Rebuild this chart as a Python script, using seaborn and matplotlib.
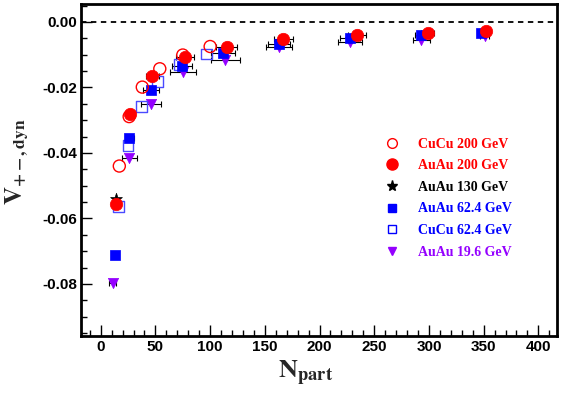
import matplotlib
matplotlib.use("Agg")
import matplotlib.pyplot as plt
from matplotlib.ticker import MultipleLocator, FormatStrFormatter
from matplotlib.lines import Line2D
import seaborn as sns

sns.set_theme(style="white")
plt.rcParams['font.family'] = ['Liberation Sans', 'DejaVu Sans']
plt.rcParams['mathtext.fontset'] = 'stix'

# CuCu 200 GeV (open red circles)
npart_cucu200 = [17, 26, 38, 54, 75, 100]
v_cucu200 = [-0.0440, -0.0289, -0.0199, -0.0143, -0.0101, -0.0075]

# AuAu 200 GeV (filled red circles)
npart_auau200 = [14, 27, 47, 77, 115, 167, 234, 299, 352]
v_auau200 = [-0.0557, -0.0282, -0.0165, -0.0108, -0.0075, -0.0053, -0.0040, -0.0033, -0.0027]
xerr_auau200 = [2, 4, 6, 8, 10, 9, 8, 6, 3]

# AuAu 130 GeV (black star)
npart_auau130 = [14]
v_auau130 = [-0.0540]

# AuAu 62.4 GeV (filled blue squares)
npart_auau62 = [13, 26, 46, 74, 112, 163, 228, 293, 348]
v_auau62 = [-0.0711, -0.0355, -0.0208, -0.0136, -0.0094, -0.0067, -0.0050, -0.0040, -0.0033]
xerr_auau62 = [2, 4, 7, 9, 11, 10, 9, 6, 3]

# CuCu 62.4 GeV (open blue squares)
npart_cucu62 = [16, 25, 37, 52, 72, 97]
v_cucu62 = [-0.0564, -0.0378, -0.0259, -0.0182, -0.0131, -0.0098]

# AuAu 19.6 GeV (purple triangles)
npart_auau19 = [11, 26, 46, 75, 114, 163, 228, 293, 351]
v_auau19 = [-0.0796, -0.0414, -0.0251, -0.0152, -0.0116, -0.0077, -0.0060, -0.0055, -0.0043]
xerr_auau19 = [3, 7, 9, 12, 13, 12, 11, 8, 4]

legend_labels = ['CuCu 200 GeV', 'AuAu 200 GeV', 'AuAu 130 GeV',
                 'AuAu 62.4 GeV', 'CuCu 62.4 GeV', 'AuAu 19.6 GeV']

red = '#ff0000'
blue = '#0000ff'
lblue = '#4a4aff'
purple = '#9400ff'

fig = plt.figure(figsize=(5.65, 3.93), dpi=100)
ax = fig.add_axes([0.1434, 0.145, 0.8424, 0.845])

# horizontal error bars
for xs, ys, xe in [(npart_auau19, v_auau19, xerr_auau19),
                   (npart_auau62, v_auau62, xerr_auau62),
                   (npart_auau200, v_auau200, xerr_auau200)]:
    ax.errorbar(xs, ys, xerr=xe, fmt='none', ecolor='black',
                elinewidth=0.8, capsize=2, capthick=0.8, zorder=2)

sns.scatterplot(x=npart_auau19, y=v_auau19, marker='v', s=55, color=purple,
                edgecolor=purple, linewidth=0.5, ax=ax, zorder=3)
sns.scatterplot(x=npart_cucu62, y=v_cucu62, marker='s', s=60, color=lblue,
                facecolors='none', edgecolor=lblue, linewidth=1.0, ax=ax, zorder=4)
sns.scatterplot(x=npart_auau130, y=v_auau130, marker='*', s=80, color='black',
                edgecolor='black', linewidth=0.5, ax=ax, zorder=4.5)
sns.scatterplot(x=npart_auau62, y=v_auau62, marker='s', s=45, color=blue,
                edgecolor=blue, linewidth=0.5, ax=ax, zorder=5)
sns.scatterplot(x=npart_cucu200, y=v_cucu200, marker='o', s=75, color=red,
                facecolors='none', edgecolor=red, linewidth=1.0, ax=ax, zorder=6)
sns.scatterplot(x=npart_auau200, y=v_auau200, marker='o', s=80, color=red,
                edgecolor=red, linewidth=0.5, ax=ax, zorder=7)

ax.axhline(0, color='black', linestyle=(0, (3, 2.5)), linewidth=1.3, zorder=1)

ax.set_xlim(-18, 417)
ax.set_ylim(-0.0959, 0.0055)
ax.xaxis.set_major_locator(MultipleLocator(50))
ax.xaxis.set_minor_locator(MultipleLocator(10))
ax.yaxis.set_major_locator(MultipleLocator(0.02))
ax.yaxis.set_minor_locator(MultipleLocator(0.005))
ax.yaxis.set_major_formatter(FormatStrFormatter('%.2f'))
ax.tick_params(which='major', direction='in', length=8, width=1, labelsize=11,
               bottom=True, left=True, top=False, right=False, pad=3,
               color='black', labelcolor='black')
ax.tick_params(which='minor', direction='in', length=4, width=1,
               bottom=True, left=True, top=False, right=False, color='black')
for lab in ax.get_xticklabels() + ax.get_yticklabels():
    lab.set_fontweight('bold')
for sp in ax.spines.values():
    sp.set_linewidth(2)
    sp.set_color('black')

ax.set_xlabel(r'$\mathbf{N_{part}}$', fontsize=19)
ax.xaxis.set_label_coords(0.473, -0.068, transform=ax.transAxes)
ax.xaxis.label.set_va('top')
ax.set_ylabel(r'$\mathbf{V_{+-,dyn}}$', fontsize=18)
ax.yaxis.set_label_coords(-0.106, 0.525, transform=ax.transAxes)

legend_handles = [
    Line2D([], [], marker='o', ls='none', mfc='none', mec=red, ms=7, mew=1),
    Line2D([], [], marker='o', ls='none', mfc=red, mec=red, ms=8),
    Line2D([], [], marker='*', ls='none', mfc='black', mec='black', ms=8),
    Line2D([], [], marker='s', ls='none', mfc=blue, mec=blue, ms=5.5),
    Line2D([], [], marker='s', ls='none', mfc='none', mec=blue, ms=6, mew=1),
    Line2D([], [], marker='v', ls='none', mfc=purple, mec=purple, ms=6),
]
ax.legend(legend_handles, legend_labels, frameon=False, loc='upper left',
          bbox_to_anchor=(0.612, 0.635), handlelength=1.0, handletextpad=1.4,
          labelspacing=0.62,
          labelcolor=[red, red, 'black', blue, blue, purple],
          prop={'family': 'Liberation Serif', 'weight': 'bold', 'size': 10})

fig.savefig('out.png', dpi=100)
